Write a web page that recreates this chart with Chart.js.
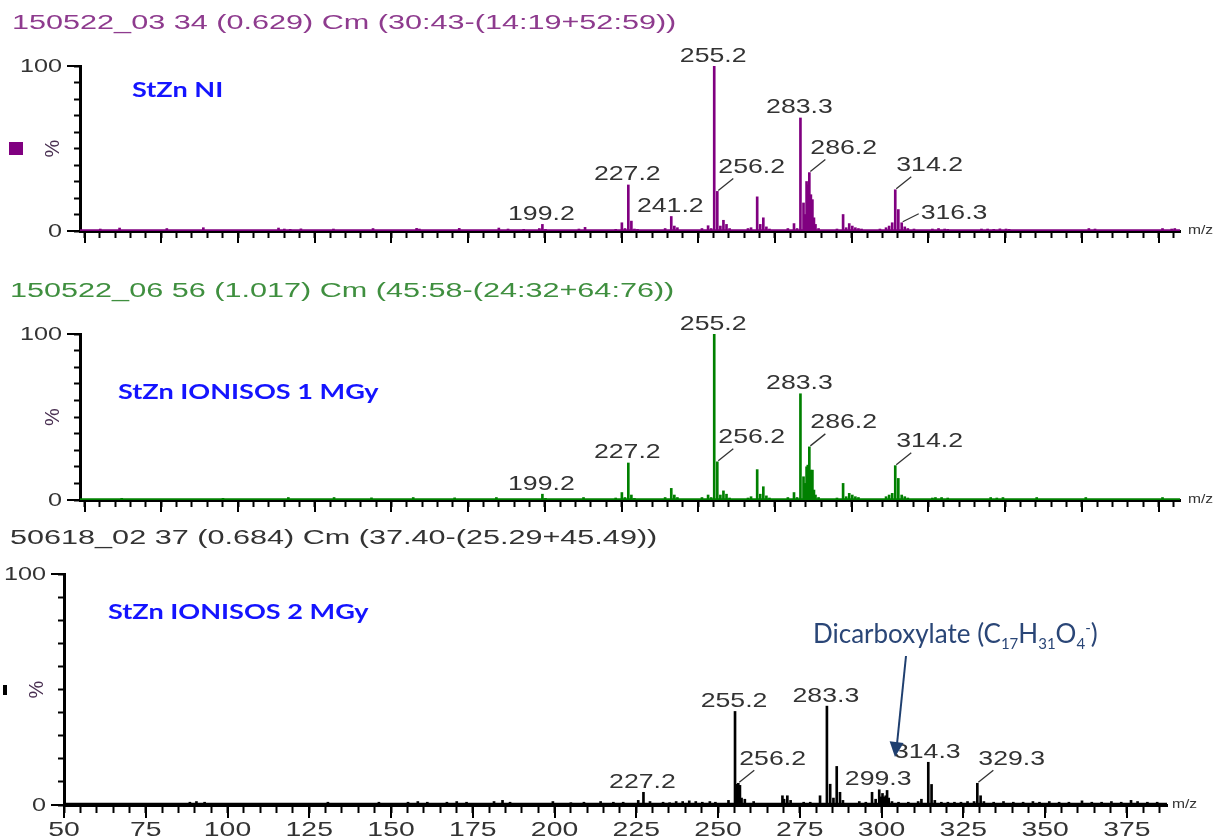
<!DOCTYPE html>
<html>
<head>
<meta charset="utf-8">
<script src="https://cdn.jsdelivr.net/npm/chart.js@4.4.1/dist/chart.umd.min.js"></script>
<style>
  html, body { margin: 0; padding: 0; background: #fff; }
  #page { position: relative; width: 1219px; height: 839px; overflow: hidden; font-family: "Liberation Sans", Arial, sans-serif; }
  canvas { position: absolute; left: 0; top: 0; }
  .title { position: absolute; white-space: nowrap; font-size: 20px; line-height: 1; transform-origin: 0 0; transform: scaleX(1.53); }
  .sample { position: absolute; white-space: nowrap; font-family: Lato, sans-serif; font-weight: 700; font-size: 21px; line-height: 1; color: #1414ff; transform-origin: 0 0; transform: scaleX(1.29); }
  .mark { position: absolute; }
  .note { position: absolute; left: 813px; top: 620px; white-space: nowrap; font-family: Lato, sans-serif; font-size: 26px; line-height: 1; color: #2a4677; }
  .note sub, .note sup { font-size: 15px; }
  svg { position: absolute; left: 0; top: 0; }
</style>
</head>
<body>
<div id="page">
  <canvas id="c1" width="1219" height="839"></canvas>
  <canvas id="c2" width="1219" height="839"></canvas>
  <canvas id="c3" width="1219" height="839"></canvas>

  <div class="title" style="left:12px; top:12px; color:#8e3b8e;">150522_03 34 (0.629) Cm (30:43-(14:19+52:59))</div>
  <div class="title" style="left:10px; top:280px; color:#3f8f3f;">150522_06 56 (1.017) Cm (45:58-(24:32+64:76))</div>
  <div class="title" style="left:10px; top:527px; color:#333;">50618_02 37 (0.684) Cm (37.40-(25.29+45.49))</div>

  <div class="sample" style="left:132px; top:78px;">StZn NI</div>
  <div class="sample" style="left:118px; top:380px;">StZn IONISOS 1 MGy</div>
  <div class="sample" style="left:108px; top:600px;">StZn IONISOS 2 MGy</div>

  <div class="mark" style="left:9px; top:142px; width:14px; height:13px; background:#800080;"></div>
  <div class="mark" style="left:3px; top:685px; width:4px; height:10px; background:#000;"></div>

  <div class="note">Dicarboxylate (C<sub>17</sub>H<sub>31</sub>O<sub>4</sub><sup>-</sup>)</div>
  <svg width="1219" height="839">
    <line x1="906" y1="656" x2="897" y2="744" stroke="#1f3f6f" stroke-width="2"/>
    <polygon points="895,757 903.6,742.9 889.6,741.3" fill="#1f3f6f"/>
  </svg>
</div>

<script>
// ---- spectrum 1 : StZn NI (purple)
const mz1 = [55.1, 61.4, 76.8, 88.7, 113.2, 115.1, 117.0, 120.5, 131.1, 144.0, 158.2, 159.1, 172.1, 185.0, 188.0, 193.1,
  198.2, 199.2, 200.2, 211.1, 213.1, 223.1, 225.1, 226.1, 227.2, 228.2, 229.2, 230.2, 239.2, 241.2, 242.2, 243.2,
  251.2, 253.2, 254.2, 255.2, 256.2, 257.2, 258.2, 259.2, 260.2, 266.2, 267.2, 269.2, 270.2, 271.2, 272.2, 273.2,
  279.2, 281.2, 282.2, 283.3, 284.3, 284.8, 285.3, 285.7, 286.2, 286.7, 287.2, 287.7, 288.2, 289.2,
  295.2, 297.2, 298.2, 299.2, 300.2, 301.2, 302.2, 303.2, 309.2, 311.2, 312.2, 313.2, 314.2, 315.2, 316.3, 317.3,
  318.3, 320.3, 326.3, 328.3, 330.3, 331.3, 342.3, 344.3, 346.3, 348.3, 350.3, 351.3, 377.3, 379.3, 401.3, 404.3, 405.3];
const int1 = [1.2, 1.8, 1.5, 2.0, 1.8, 1.2, 1.0, 1.3, 1.2, 1.5, 1.6, 1.2, 1.6, 1.8, 1.2, 1.0,
  1.5, 4.0, 1.0, 1.2, 2.2, 1.0, 5.0, 1.5, 27.9, 6.0, 1.2, 1.0, 1.5, 8.8, 3.0, 2.0,
  1.5, 3.2, 1.5, 100, 24, 3.0, 6.5, 4.0, 1.5, 1.5, 2.0, 20.7, 4.0, 8.0, 2.5, 1.2,
  1.5, 4.5, 1.5, 68.5, 17, 10, 30, 28, 35.4, 22, 19, 8, 4, 1.5,
  1.2, 10, 2, 4.5, 3, 2, 1.5, 1.2, 1.2, 2.0, 3.0, 5.0, 25, 13, 5, 2.5,
  1.5, 1.2, 1.2, 1.5, 1.2, 1.0, 1.2, 1.2, 1.0, 1.3, 1.2, 1.0, 1.5, 1.2, 1.5, 1.2, 1.5];
const topLabels1 = [199.2, 227.2, 241.2, 255.2, 283.3];
const leadLabels1 = [256.2, 286.2, 314.2];
const sideLabels1 = [316.3];

// ---- spectrum 2 : StZn IONISOS 1 MGy (green)
const mz2 = [62.1, 95.1, 116.4, 131.3, 143.5, 157.1, 170.6, 184.2, 199.2, 200.2, 212.6, 223.1, 225.1, 226.1, 227.2, 228.2,
  229.2, 239.2, 241.2, 242.2, 243.2, 251.2, 253.2, 254.2, 255.2, 256.2, 257.2, 258.2, 259.2, 260.2, 266.2, 267.2,
  269.2, 270.2, 271.2, 272.2, 273.2, 279.2, 281.2, 282.2, 283.3, 284.3, 284.8, 285.3, 285.7, 286.2, 286.7, 287.2,
  287.7, 288.2, 289.2, 295.2, 297.2, 298.2, 299.2, 300.2, 301.2, 302.2, 311.2, 312.2, 313.2, 314.2, 315.2, 316.3,
  317.3, 318.3, 326.3, 327.3, 329.3, 331.3, 345.3, 347.3, 349.3, 360.3, 376.3, 401.3];
const int2 = [1.0, 1.0, 1.5, 1.5, 1.3, 1.5, 1.3, 1.5, 3.5, 1.0, 1.5, 1.2, 4.5, 1.5, 22.3, 3.0,
  1.0, 1.5, 7.0, 3.0, 1.5, 1.5, 3.0, 1.5, 100, 23, 3.0, 5.5, 3.5, 1.2, 1.2, 2.0,
  18.3, 3.5, 8.0, 2.5, 1.2, 1.5, 4.5, 1.5, 64, 14, 10, 20, 21, 32, 18, 18,
  6, 3, 1.5, 1.2, 10, 2, 4, 3, 2, 1.5, 2, 3, 4, 20.7, 13, 3,
  2, 1.2, 1.2, 1.5, 1.5, 1.2, 1.5, 1.2, 1.5, 1.5, 1.5, 1.5];
const topLabels2 = [199.2, 227.2, 255.2, 283.3];
const leadLabels2 = [256.2, 286.2, 314.2];
const sideLabels2 = [];

// ---- spectrum 3 : StZn IONISOS 2 MGy (black)
const mz3 = [88.5, 90.5, 93.0, 130.7, 146.3, 155.2, 158.2, 161.1, 167.1, 170.1, 173.1, 181.5, 184.1, 186.4, 199.5, 205.0,
  209.0, 214.1, 218.0, 221.0, 225.6, 227.2, 229.2, 233.2, 235.2, 237.2, 239.2, 241.2, 243.2, 245.2, 247.5, 249.2,
  253.2, 255.2, 255.7, 256.2, 256.7, 257.2, 258.2, 260.9, 269.7, 270.2, 271.2, 272.2, 276.2, 278.2, 281.2, 283.3,
  284.3, 285.3, 286.3, 287.3, 288.2, 293.2, 295.2, 297.1, 298.2, 299.3, 299.8, 300.3, 300.8, 301.3, 301.7, 302.2,
  303.2, 305.2, 308.2, 311.2, 312.2, 314.3, 315.3, 316.3, 318.3, 320.3, 322.3, 324.3, 326.3, 328.3, 329.3, 330.3,
  331.3, 334.3, 337.3, 340.3, 343.3, 346.3, 348.3, 351.3, 354.3, 357.3, 361.3, 364.3, 367.3, 370.3, 373.3, 376.3,
  378.3, 381.3, 384.3];
const int3 = [1.2, 1.5, 1.2, 1.2, 1.2, 1.2, 1.5, 1.2, 1.2, 1.5, 1.2, 1.5, 2.0, 1.2, 1.5, 1.0,
  1.2, 1.5, 1.2, 1.2, 2.0, 5.5, 1.5, 1.2, 1.0, 1.5, 1.5, 1.8, 1.5, 1.2, 1.5, 1.2,
  2.0, 40.5, 9.0, 9.4, 8.5, 3.0, 2.5, 1.5, 4.0, 2.5, 4.0, 2.0, 1.2, 1.2, 4.0, 42.8,
  9.0, 3.0, 16.7, 5.5, 2.0, 1.5, 1.2, 5.5, 2.5, 6.6, 3.5, 5.0, 3.5, 4.0, 6.3, 3.0,
  1.5, 1.2, 1.2, 1.5, 2.5, 18.5, 8.9, 2.0, 1.2, 1.2, 1.2, 1.2, 1.5, 1.5, 9.4, 4.0,
  1.5, 1.2, 1.5, 1.2, 1.2, 1.5, 1.2, 1.5, 1.2, 1.2, 1.8, 1.2, 1.2, 1.5, 1.2, 2.0,
  1.5, 1.2, 1.2];
const topLabels3 = [227.2, 255.2, 283.3, 299.3, 314.3];
const leadLabels3 = [256.2, 329.3];
const sideLabels3 = [];

const yTicks = [0, 100];

function stretchText(ctx, txt, x, y, sx, align) {
  ctx.save();
  ctx.translate(x, y);
  ctx.scale(sx, 1);
  ctx.textAlign = align;
  ctx.fillText(txt, 0, 0);
  ctx.restore();
}

function intensityAt(mz, mzs, ints) {
  let best = 0;
  for (let i = 1; i < mzs.length; i++) {
    if (Math.abs(mzs[i] - mz) < Math.abs(mzs[best] - mz)) best = i;
  }
  return ints[best];
}

// axis decorations, peak labels
const specPlugin = {
  id: 'spec',
  afterDraw(chart, args, o) {
    const ctx = chart.ctx;
    const xs = chart.scales.x, ys = chart.scales.y;
    const a = chart.chartArea;
    ctx.save();
    ctx.strokeStyle = '#000';
    ctx.lineWidth = 2;
    xs.ticks.forEach(t => {
      if (t.value % 25 === 0) {
        const px = Math.round(xs.getPixelForValue(t.value));
        ctx.beginPath(); ctx.moveTo(px, a.bottom); ctx.lineTo(px, a.bottom + o.majorLen); ctx.stroke();
      }
    });
    yTicks.forEach(v => {
      const py = Math.round(ys.getPixelForValue(v));
      ctx.beginPath(); ctx.moveTo(a.left, py); ctx.lineTo(a.left - 13, py); ctx.stroke();
    });

    ctx.fillStyle = '#333';
    ctx.textBaseline = 'middle';
    ctx.font = '18px "Liberation Sans"';
    yTicks.forEach(v => stretchText(ctx, String(v), a.left - 18, ys.getPixelForValue(v) + 1, 1.4, 'right'));

    // "%" at the middle of the intensity axis
    ctx.save();
    ctx.fillStyle = '#4a3052';
    ctx.font = '20px "Liberation Sans"';
    ctx.translate(a.left - 27, ys.getPixelForValue(50));
    ctx.rotate(-Math.PI / 2);
    ctx.textAlign = 'center';
    ctx.fillText('%', 0, 0);
    ctx.restore();

    if (o.xLabels) {
      ctx.font = '21px "Liberation Sans"';
      xs.ticks.forEach(t => {
        if (t.value % 25 === 0) stretchText(ctx, String(t.value), xs.getPixelForValue(t.value), a.bottom + 25, 1.35, 'center');
      });
    }

    ctx.font = '13px "Liberation Sans"';
    stretchText(ctx, 'm/z', a.right + o.mzGap, a.bottom - 1, 1.2, 'left');

    // peak labels
    const mzs = o.mz, ints = o.int;
    ctx.font = '21px "Liberation Sans"';
    ctx.textBaseline = 'alphabetic';
    ctx.strokeStyle = '#333';
    ctx.lineWidth = 1.3;
    o.top.forEach(m => {
      const px = xs.getPixelForValue(m), py = ys.getPixelForValue(intensityAt(m, mzs, ints));
      stretchText(ctx, m.toFixed(1), px - 1, py - 4.5, 1.27, 'center');
    });
    o.lead.forEach(m => {
      const px = xs.getPixelForValue(m), py = ys.getPixelForValue(intensityAt(m, mzs, ints));
      ctx.beginPath(); ctx.moveTo(px + 1, py - 1); ctx.lineTo(px + 16, py - 13); ctx.stroke();
      stretchText(ctx, m.toFixed(1), px + 1, py - 18.5, 1.27, 'left');
    });
    o.side.forEach(m => {
      const px = xs.getPixelForValue(m), py = ys.getPixelForValue(intensityAt(m, mzs, ints));
      ctx.beginPath(); ctx.moveTo(px + 1, py - 1); ctx.lineTo(px + 17, py - 9); ctx.stroke();
      stretchText(ctx, m.toFixed(1), px + 19, py - 4, 1.27, 'left');
    });
    ctx.restore();
  }
};

function spectrum(id, mz, ints, color, area, xmin, xmax, labels, extra) {
  const pts = mz.map((m, i) => ({ x: m, y: ints[i] }));
  return new Chart(document.getElementById(id), {
    type: 'bar',
    data: {
      datasets: [
        { type: 'line', data: [{ x: xmin, y: 0.5 }, { x: xmax, y: 0.5 }], borderColor: color, borderWidth: 2, pointRadius: 0 },
        { data: pts, backgroundColor: color, borderWidth: 0, barThickness: 2 }
      ]
    },
    options: {
      responsive: false,
      animation: false,
      devicePixelRatio: 1,
      events: [],
      layout: {
        autoPadding: false,
        padding: { left: area.left - 20, right: 1219 - area.right, top: area.top, bottom: 839 - area.bottom - 20 }
      },
      plugins: {
        legend: { display: false },
        tooltip: { enabled: false },
        spec: Object.assign({ mz: mz, int: ints, top: labels[0], lead: labels[1], side: labels[2] }, extra)
      },
      scales: {
        x: {
          type: 'linear', min: xmin, max: xmax, offset: false,
          afterFit: s => { s.height = 20; },
          ticks: { stepSize: 5, display: false, includeBounds: false },
          grid: { offset: false, drawOnChartArea: false, tickLength: extra.minorLen, tickWidth: 2, tickColor: '#000' },
          border: { color: '#000', width: 3 }
        },
        y: {
          min: 0, max: 100,
          afterFit: s => { s.width = 20; },
          ticks: { stepSize: 10, display: false },
          grid: { drawOnChartArea: false, tickLength: 6, tickWidth: 2, tickColor: '#000' },
          border: { color: '#000', width: 3 }
        }
      }
    },
    plugins: [specPlugin]
  });
}

spectrum('c1', mz1, int1, '#800080', { left: 80, right: 1180, top: 66, bottom: 231 }, 48.5, 407,
  [topLabels1, leadLabels1, sideLabels1], { xLabels: false, majorLen: 12, minorLen: 7, mzGap: 8 });
spectrum('c2', mz2, int2, '#008000', { left: 80, right: 1180, top: 334, bottom: 500 }, 48.5, 407,
  [topLabels2, leadLabels2, sideLabels2], { xLabels: false, majorLen: 12, minorLen: 7, mzGap: 8 });
spectrum('c3', mz3, int3, '#000000', { left: 64, right: 1167, top: 574, bottom: 805 }, 50, 387.3,
  [topLabels3, leadLabels3, sideLabels3], { xLabels: true, majorLen: 13, minorLen: 8, mzGap: 5 });
</script>
</body>
</html>
